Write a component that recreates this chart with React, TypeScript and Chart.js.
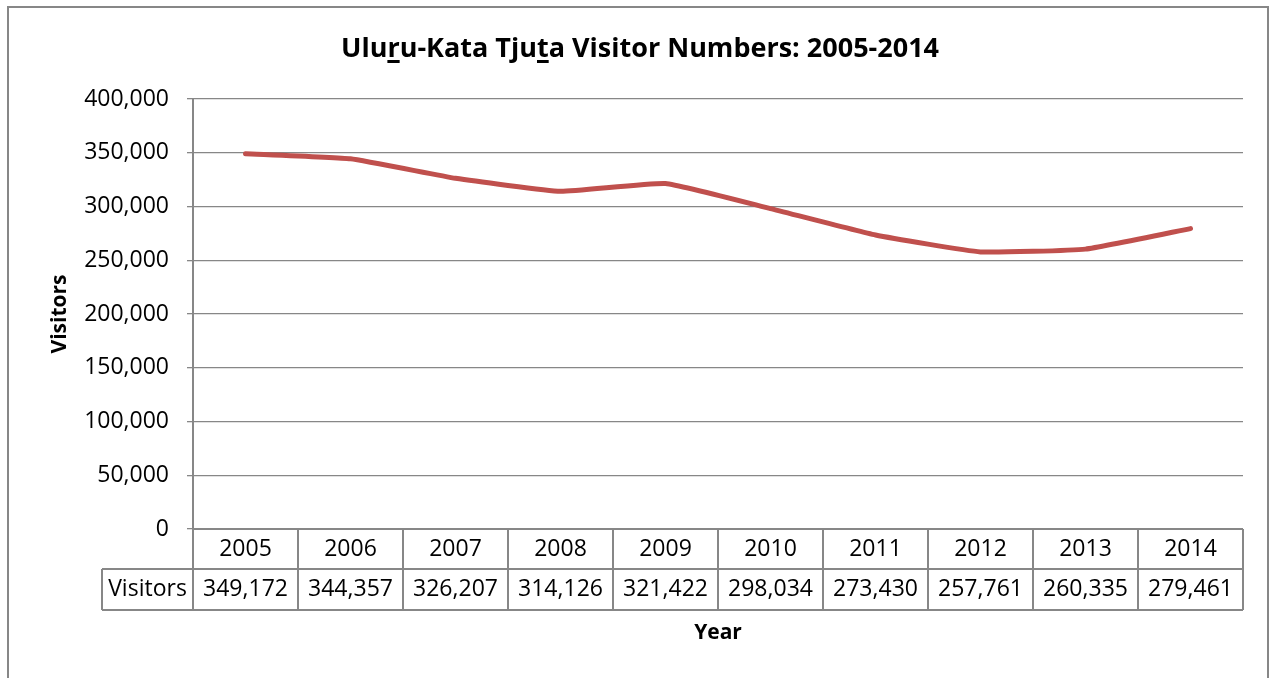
import React, { useEffect, useRef } from 'react';
import { Chart, registerables } from 'chart.js';

Chart.register(...registerables);

const years = ['2005', '2006', '2007', '2008', '2009', '2010', '2011', '2012', '2013', '2014'];
const visitors = [349172, 344357, 326207, 314126, 321422, 298034, 273430, 257761, 260335, 279461];
const seriesName = 'Visitors';
const chartTitle = 'Uluru-Kata Tjuta Visitor Numbers: 2005-2014';
const underlinedChars = [3, 14];
const xTitle = 'Year';
const yTitle = 'Visitors';
const yMin = 0;
const yMax = 400000;
const yStep = 50000;

const FONT = '"Open Sans", "Noto Sans", sans-serif';
const GRID = '#878787';
const LINE = '#C0504D';

const fmt = (v: number) => v.toLocaleString('en-US');

export default function App() {
  const ref = useRef<HTMLCanvasElement | null>(null);

  useEffect(() => {
    document.body.style.margin = '0';
    const canvas = ref.current!;
    const decor = {
      id: 'decor',
      afterDraw(chart: any) {
        const ctx = chart.ctx as CanvasRenderingContext2D;
        const area = chart.chartArea;
        const xs = chart.scales.x;
        ctx.save();
        // outer frame
        ctx.strokeStyle = GRID;
        ctx.lineWidth = 2;
        ctx.strokeRect(8, 7, 1260, 720);

        // title
        ctx.fillStyle = '#000';
        ctx.font = `bold 27px ${FONT}`;
        ctx.textBaseline = 'alphabetic';
        ctx.textAlign = 'left';
        const tw = ctx.measureText(chartTitle).width;
        const tx = 640 - tw / 2;
        const ty = 57;
        ctx.fillText(chartTitle, tx, ty);
        ctx.lineWidth = 3;
        ctx.strokeStyle = '#000';
        underlinedChars.forEach((i) => {
          const x0 = tx + ctx.measureText(chartTitle.slice(0, i)).width;
          const x1 = tx + ctx.measureText(chartTitle.slice(0, i + 1)).width;
          ctx.beginPath();
          ctx.moveTo(x0, ty + 4.5);
          ctx.lineTo(x1, ty + 4.5);
          ctx.stroke();
        });

        // data table
        const n = years.length;
        const colW = (area.right - area.left) / n;
        const r0 = area.bottom;
        const r1 = r0 + 40;
        const r2 = r1 + 41;
        const headLeft = 102;
        ctx.strokeStyle = GRID;
        ctx.lineWidth = 2;
        ctx.beginPath();
        ctx.moveTo(area.left, r0); ctx.lineTo(area.right, r0);
        ctx.moveTo(headLeft, r1); ctx.lineTo(area.right, r1);
        ctx.moveTo(headLeft, r2); ctx.lineTo(area.right, r2);
        ctx.moveTo(headLeft, r1); ctx.lineTo(headLeft, r2);
        for (let i = 0; i <= n; i++) {
          const x = area.left + i * colW;
          ctx.moveTo(x, r0); ctx.lineTo(x, r2);
        }
        ctx.stroke();

        ctx.fillStyle = '#000';
        ctx.font = `23px ${FONT}`;
        ctx.textAlign = 'center';
        ctx.textBaseline = 'middle';
        years.forEach((y, i) => {
          const cx = xs.getPixelForValue(i);
          ctx.fillText(y, cx, (r0 + r1) / 2);
          ctx.fillText(fmt(visitors[i]), cx, (r1 + r2) / 2);
        });
        ctx.fillText(seriesName, (headLeft + area.left) / 2, (r1 + r2) / 2);

        // axis titles
        ctx.font = `bold 21px ${FONT}`;
        ctx.fillText(xTitle, (area.left + area.right) / 2, 633);
        ctx.save();
        ctx.translate(60, (area.top + area.bottom) / 2);
        ctx.rotate(-Math.PI / 2);
        ctx.fillText(yTitle, 0, 0);
        ctx.restore();
        ctx.restore();
      },
    };

    const chart = new Chart(canvas, {
      type: 'line',
      data: {
        labels: years,
        datasets: [
          {
            label: seriesName,
            data: visitors,
            borderColor: LINE,
            backgroundColor: LINE,
            borderWidth: 5,
            pointRadius: 0,
            tension: 0.12,
            borderCapStyle: 'round',
            borderJoinStyle: 'round',
          },
        ],
      },
      options: {
        responsive: false,
        animation: false,
        devicePixelRatio: 1,
        layout: { padding: { left: 0, top: 99, right: 30, bottom: 0 } },
        plugins: { legend: { display: false }, title: { display: false }, tooltip: { enabled: false } },
        scales: {
          x: {
            type: 'category',
            offset: true,
            grid: { display: false, drawTicks: false },
            border: { display: false },
            ticks: { display: false },
            afterFit: (s: any) => { s.height = 678 - 529; },
          },
          y: {
            min: yMin,
            max: yMax,
            ticks: {
              stepSize: yStep,
              padding: 18,
              color: '#000',
              font: { family: FONT, size: 23 },
              callback: (v: any) => fmt(Number(v)),
            },
            grid: { color: GRID, lineWidth: 1.3, tickLength: 6, drawTicks: true },
            border: { display: true, color: GRID, width: 2 },
            afterFit: (s: any) => { s.width = 193; },
          },
        },
      },
      plugins: [decor],
    });
    return () => chart.destroy();
  }, []);

  return <canvas ref={ref} width={1273} height={678} style={{ display: 'block' }} />;
}
